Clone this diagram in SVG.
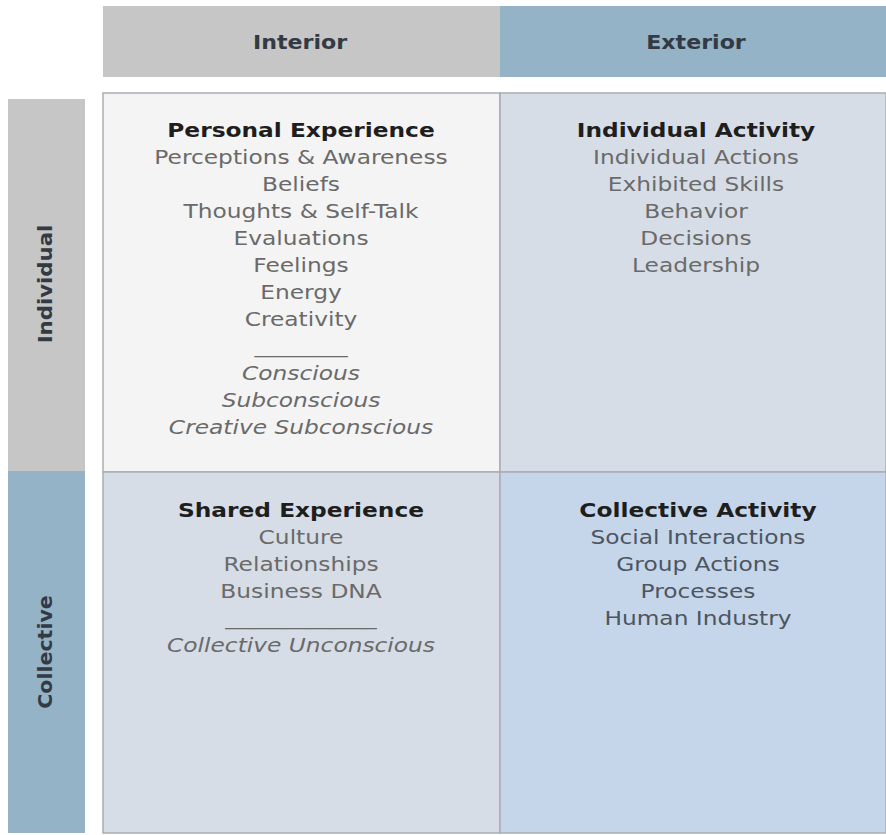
<svg xmlns="http://www.w3.org/2000/svg" width="886" height="835" viewBox="0 0 886 835">
<style>
.hd{font-family:"DejaVu Sans",Verdana,sans-serif;font-weight:bold;font-size:19px;fill:#333a44;text-anchor:middle}
.tt{font-family:"DejaVu Sans",Verdana,sans-serif;font-weight:bold;font-size:20px;fill:#1e1e1e;text-anchor:middle}
.it{font-family:"DejaVu Sans",Verdana,sans-serif;font-size:20px;fill:#6a6a6a;text-anchor:middle}
.itb{font-family:"DejaVu Sans",Verdana,sans-serif;font-size:20px;fill:#4c5561;text-anchor:middle}
.em{font-style:italic}
.cell{stroke:#a9adb2;stroke-width:1.5}
</style>
<rect width="886" height="835" fill="#ffffff"/>
<g id="header-interior">
<rect x="103" y="6" width="397" height="71" fill="#c6c6c6"/>
<text class="hd" transform="translate(300 49) scale(1.165 1)" x="0" y="0">Interior</text>
</g>
<g id="header-exterior">
<rect x="500" y="6" width="386" height="71" fill="#94b3c6"/>
<text class="hd" transform="translate(696 49) scale(1.165 1)" x="0" y="0">Exterior</text>
</g>
<g id="side-individual">
<rect x="8" y="99" width="77" height="372" fill="#c6c6c6"/>
<text class="hd" transform="translate(52,284) rotate(-90) scale(1.12 1)">Individual</text>
</g>
<g id="side-collective">
<rect x="8" y="471" width="77" height="362" fill="#94b3c6"/>
<text class="hd" transform="translate(52,652) rotate(-90) scale(1.08 1)">Collective</text>
</g>
<g id="q-personal-experience">
<rect class="cell" x="103" y="93" width="397" height="379" fill="#f4f4f4"/>
<g transform="translate(301 0) scale(1.165 1)">
<text class="tt" x="0" y="137">Personal Experience</text>
<text class="it" x="0" y="164">Perceptions &amp; Awareness</text>
<text class="it" x="0" y="191">Beliefs</text>
<text class="it" x="0" y="218">Thoughts &amp; Self-Talk</text>
<text class="it" x="0" y="245">Evaluations</text>
<text class="it" x="0" y="272">Feelings</text>
<text class="it" x="0" y="299">Energy</text>
<text class="it" x="0" y="326">Creativity</text>
<text class="it" x="0" y="353">________</text>
<text class="it em" x="0" y="380">Conscious</text>
<text class="it em" x="0" y="407">Subconscious</text>
<text class="it em" x="0" y="434">Creative Subconscious</text>
</g>
</g>
<g id="q-individual-activity">
<rect class="cell" x="500" y="93" width="386" height="379" fill="#d6dde6"/>
<g transform="translate(696 0) scale(1.165 1)">
<text class="tt" x="0" y="137">Individual Activity</text>
<text class="it" x="0" y="164">Individual Actions</text>
<text class="it" x="0" y="191">Exhibited Skills</text>
<text class="it" x="0" y="218">Behavior</text>
<text class="it" x="0" y="245">Decisions</text>
<text class="it" x="0" y="272">Leadership</text>
</g>
</g>
<g id="q-shared-experience">
<rect class="cell" x="103" y="472" width="397" height="361" fill="#d6dde6"/>
<g transform="translate(301 0) scale(1.165 1)">
<text class="tt" x="0" y="517">Shared Experience</text>
<text class="it" x="0" y="544">Culture</text>
<text class="it" x="0" y="571">Relationships</text>
<text class="it" x="0" y="598">Business DNA</text>
<text class="it" x="0" y="625">_____________</text>
<text class="it em" x="0" y="652">Collective Unconscious</text>
</g>
</g>
<g id="q-collective-activity">
<rect class="cell" x="500" y="472" width="386" height="361" fill="#c5d6ea"/>
<g transform="translate(698 0) scale(1.165 1)">
<text class="tt" x="0" y="517">Collective Activity</text>
<text class="itb" x="0" y="544">Social Interactions</text>
<text class="itb" x="0" y="571">Group Actions</text>
<text class="itb" x="0" y="598">Processes</text>
<text class="itb" x="0" y="625">Human Industry</text>
</g>
</g>
<g id="connectors"></g>
</svg>
